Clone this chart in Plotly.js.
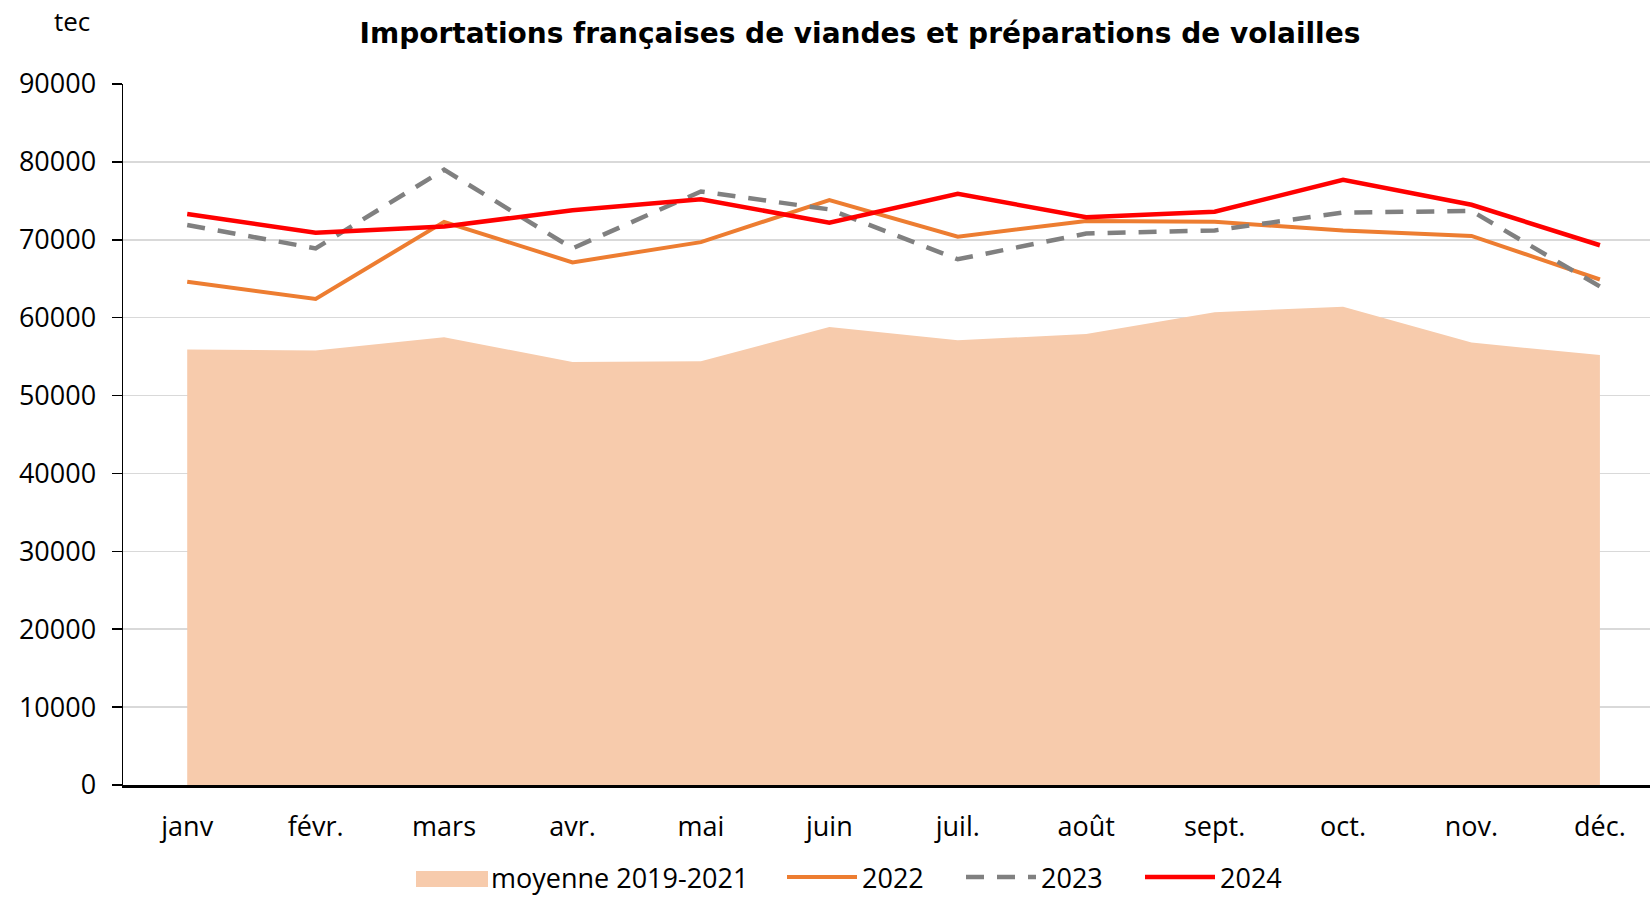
<!DOCTYPE html>
<html>
<head>
<meta charset="utf-8">
<script src="https://cdn.plot.ly/plotly-3.0.1.min.js"></script>
<style>html,body{margin:0;padding:0;background:#fff;}#chart{width:1650px;height:902px;}</style>
</head>
<body>
<div id="chart"></div>
<script>
const months = ["janv","févr.","mars","avr.","mai","juin","juil.","août","sept.","oct.","nov.","déc."];
const moyenne2019_2021 = [55900, 55800, 57500, 54300, 54400, 58800, 57100, 57900, 60700, 61400, 56800, 55200];
const y2022 = [64600, 62400, 72300, 67100, 69700, 75100, 70400, 72400, 72300, 71200, 70500, 64900];
const y2023 = [71900, 68900, 79000, 68900, 76200, 73900, 67500, 70800, 71200, 73500, 73700, 64000];
const y2024 = [73300, 70900, 71700, 73800, 75200, 72200, 75900, 72900, 73600, 77700, 74500, 69300];
const yTicks = [0,10000,20000,30000,40000,50000,60000,70000,80000,90000];

const FONT = "Open Sans, Noto Sans, sans-serif";
const FILL = "#F7CBAC";
const xIdx = months.map((m,i)=>i);

const traces = [
  {x: xIdx, y: moyenne2019_2021, name: "moyenne 2019-2021", type: "scatter", mode: "lines",
   fill: "tozeroy", fillcolor: FILL, line: {width: 0, color: FILL}, legend: "legend"},
  {x: xIdx, y: y2022, name: "2022", type: "scatter", mode: "lines",
   line: {color: "#ED7D31", width: 4}, legend: "legend2"},
  {x: xIdx, y: y2023, name: "2023", type: "scatter", mode: "lines",
   line: {color: "#808080", width: 4.5, dash: "18px,13px"}, legend: "legend3"},
  {x: xIdx, y: y2024, name: "2024", type: "scatter", mode: "lines",
   line: {color: "#FF0000", width: 4.5}, legend: "legend4"}
];

function leg(xpx) {
  return {orientation: "h", x: xpx / 1650, xanchor: "left", xref: "container",
          y: 0, yanchor: "bottom", yref: "container",
          font: {size: 27, family: FONT, color: "#000"}, itemwidth: 70,
          bgcolor: "rgba(0,0,0,0)", borderwidth: 0, itemclick: false, itemdoubleclick: false};
}

const layout = {
  width: 1650, height: 902,
  margin: {l: 123, r: 0, t: 84, b: 117},
  paper_bgcolor: "#fff", plot_bgcolor: "#fff",
  font: {family: FONT, color: "#000", size: 26},
  title: {text: "<b>Importations françaises de viandes et préparations de volailles</b>",
          font: {family: "DejaVu Sans, sans-serif", size: 28, color: "#000"},
          x: 0.5212, xanchor: "center", xref: "container", y: 0.963, yanchor: "middle", yref: "container"},
  xaxis: {
    tickmode: "array", tickvals: xIdx, ticktext: months,
    range: [-0.5, 11.39], showgrid: false, zeroline: false,
    showline: true, linecolor: "#000", linewidth: 3,
    ticks: "", ticklabelstandoff: 16,
    tickfont: {size: 27, family: FONT, color: "#000"}
  },
  yaxis: {
    range: [0, 90000], tickmode: "array", tickvals: yTicks, ticktext: yTicks.map(String),
    showgrid: true, gridcolor: "#D9D9D9", gridwidth: 1.5, zeroline: false,
    showline: true, linecolor: "#000", linewidth: 1.5,
    ticks: "outside", ticklen: 10, tickcolor: "#000", tickwidth: 1.5,
    ticklabelstandoff: 10,
    tickfont: {size: 27, family: FONT, color: "#000"}
  },
  showlegend: true,
  legend: leg(411),
  legend2: leg(782),
  legend3: leg(961),
  legend4: leg(1140),
  shapes: [
    {type: "rect", xref: "paper", yref: "paper",
     x0: (416 - 123) / 1527, x1: (488 - 123) / 1527,
     y0: (785 - 887) / 701, y1: (785 - 871) / 701,
     fillcolor: FILL, line: {width: 0}, layer: "above"}
  ],
  annotations: [
    {text: "tec", xref: "paper", yref: "paper", x: (72 - 123) / 1527, y: (785 - 21) / 701,
     xanchor: "center", yanchor: "middle",
     showarrow: false, font: {size: 26, family: FONT, color: "#000"}}
  ]
};

Plotly.newPlot("chart", traces, layout, {displayModeBar: false, staticPlot: true});
</script>
</body>
</html>
